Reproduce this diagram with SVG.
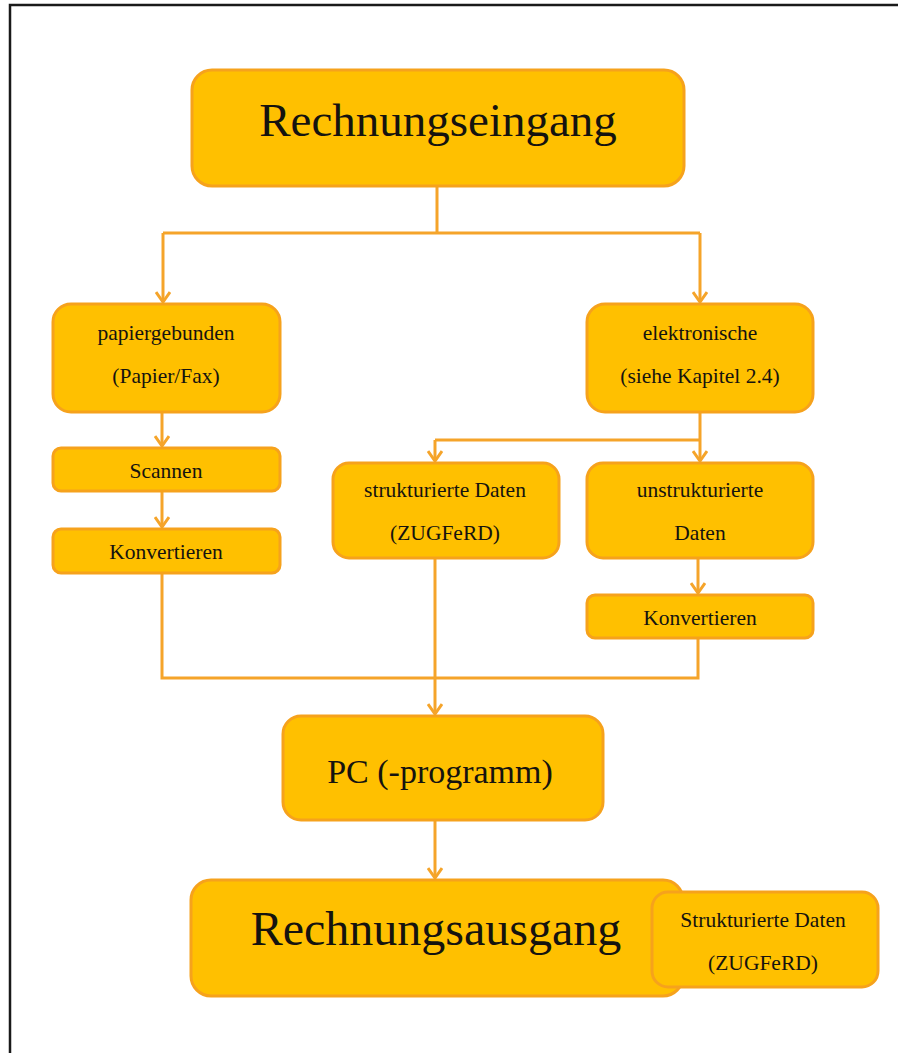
<svg xmlns="http://www.w3.org/2000/svg" width="898" height="1053" viewBox="0 0 898 1053">
<style>
.box{fill:#FFC000;stroke:#F6A21C;stroke-width:3}
.t{font-family:"Liberation Serif","Times New Roman",serif;fill:#15130f;text-anchor:middle}
.s{font-size:21.5px}
.c{fill:none;stroke:#F5A42A;stroke-width:3}
</style>
<defs>
<marker id="arr" markerUnits="userSpaceOnUse" viewBox="-11 -8 13 16" refX="0" refY="0" markerWidth="13" markerHeight="16" orient="auto">
<path d="M-10,-7 L0,0 L-10,7" fill="none" stroke="#F5A42A" stroke-width="3"/>
</marker>
</defs>
<rect width="898" height="1053" fill="#fff"/>
<path d="M10,1053 V5 H898" fill="none" stroke="#1a1a1a" stroke-width="2.5"/>
<g id="connectors">
<path class="c" d="M437,186 V233 M163,233 H700"/>
<path class="c" d="M163,233 V302" marker-end="url(#arr)"/>
<path class="c" d="M700,233 V302" marker-end="url(#arr)"/>
<path class="c" d="M162,412 V446" marker-end="url(#arr)"/>
<path class="c" d="M162,491 V527" marker-end="url(#arr)"/>
<path class="c" d="M700,412 V440 M435,440 H700"/>
<path class="c" d="M435,440 V461" marker-end="url(#arr)"/>
<path class="c" d="M700,440 V461" marker-end="url(#arr)"/>
<path class="c" d="M698,558 V593" marker-end="url(#arr)"/>
<path class="c" d="M162,573 V678 H698 V638"/>
<path class="c" d="M435,558 V714" marker-end="url(#arr)"/>
<path class="c" d="M435,820 V878" marker-end="url(#arr)"/>
</g>
<g id="rechnungseingang">
<rect class="box" x="192" y="70" width="492" height="116" rx="20"/>
<text class="t" x="438" y="136" font-size="47">Rechnungseingang</text>
</g>
<g id="papiergebunden">
<rect class="box" x="53" y="304" width="227" height="108" rx="18"/>
<text class="t s" x="166" y="340">papiergebunden</text>
<text class="t s" x="166" y="383">(Papier/Fax)</text>
</g>
<g id="scannen">
<rect class="box" x="53" y="448" width="227" height="43" rx="8"/>
<text class="t s" x="166" y="478">Scannen</text>
</g>
<g id="konvertieren-links">
<rect class="box" x="53" y="529" width="227" height="44" rx="8"/>
<text class="t s" x="166" y="559">Konvertieren</text>
</g>
<g id="elektronische">
<rect class="box" x="587" y="304" width="226" height="108" rx="18"/>
<text class="t s" x="700" y="340">elektronische</text>
<text class="t s" x="700" y="383">(siehe Kapitel 2.4)</text>
</g>
<g id="strukturierte">
<rect class="box" x="333" y="463" width="226" height="95" rx="16"/>
<text class="t s" x="445" y="497">strukturierte Daten</text>
<text class="t s" x="445" y="540">(ZUGFeRD)</text>
</g>
<g id="unstrukturierte">
<rect class="box" x="587" y="463" width="226" height="95" rx="16"/>
<text class="t s" x="700" y="497">unstrukturierte</text>
<text class="t s" x="700" y="540">Daten</text>
</g>
<g id="konvertieren-rechts">
<rect class="box" x="587" y="595" width="226" height="43" rx="8"/>
<text class="t s" x="700" y="625">Konvertieren</text>
</g>
<g id="pc">
<rect class="box" x="283" y="716" width="320" height="104" rx="18"/>
<text class="t" x="440" y="783" font-size="34">PC (-programm)</text>
</g>
<g id="rechnungsausgang">
<rect class="box" x="191" y="880" width="492" height="116" rx="20"/>
<text class="t" x="436" y="945" font-size="48">Rechnungsausgang</text>
</g>
<g id="strukturierte-ausgang">
<rect class="box" x="652" y="892" width="226" height="95" rx="16"/>
<text class="t s" x="763" y="927">Strukturierte Daten</text>
<text class="t s" x="763" y="970">(ZUGFeRD)</text>
</g>
</svg>
